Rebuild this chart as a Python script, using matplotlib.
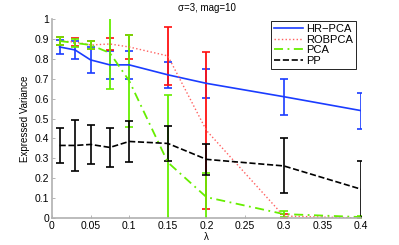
import matplotlib.pyplot as plt
from matplotlib.lines import Line2D

lam = [0.01, 0.03, 0.05, 0.075, 0.1, 0.15, 0.2, 0.3, 0.4]

hr_mean = [0.86, 0.845, 0.795, 0.77, 0.77, 0.72, 0.677, 0.61, 0.54]
hr_err = [0.035, 0.045, 0.065, 0.07, 0.07, 0.065, 0.072, 0.09, 0.09]

rob_mean = [0.89, 0.885, 0.87, 0.875, 0.86, 0.815, 0.44, 0.01, 0.0]
rob_err = [0.02, 0.02, 0.02, 0.03, 0.06, 0.145, 0.395, 0.01, 0.005]

pca_mean = [0.89, 0.88, 0.87, 0.83, 0.69, 0.28, 0.105, 0.02, 0.005]
pca_err = [0.02, 0.02, 0.02, 0.18, 0.23, 0.34, 0.12, 0.015, 0.005]

pp_mean = [0.365, 0.365, 0.37, 0.355, 0.385, 0.375, 0.295, 0.262, 0.145]
pp_err = [0.09, 0.13, 0.1, 0.1, 0.105, 0.09, 0.078, 0.138, 0.14]

plt.rcParams['font.family'] = ['Liberation Sans', 'DejaVu Sans']
fs = 7

blue, red_line, red, green = "#1a3cff", "#ff6060", "#ff1010", "#66ee00"
dashdot = (0, (5, 2.5, 1, 2.5))

fig = plt.figure(figsize=(3.99, 2.45), dpi=100)
ax = fig.add_axes([0.130, 0.110, 0.775, 0.812])

ax.errorbar(lam, hr_mean, yerr=hr_err, color=blue, lw=1.2, capsize=3,
            elinewidth=1.2, capthick=1.2)
ax.errorbar(lam, rob_mean, yerr=rob_err, color=red_line, ls=":", lw=1.0,
            capsize=3, elinewidth=1.3, capthick=1.2, ecolor=red)
ax.errorbar(lam, pca_mean, yerr=pca_err, color=green, ls=dashdot, lw=1.3,
            capsize=3, elinewidth=1.3, capthick=1.2)
ax.errorbar(lam, pp_mean, yerr=pp_err, color="black", ls="--", lw=1.2,
            capsize=3, elinewidth=1.2, capthick=1.2)

ax.set_xlim(0, 0.4)
ax.set_ylim(0, 1)
ax.set_xticks([0, 0.05, 0.1, 0.15, 0.2, 0.25, 0.3, 0.35, 0.4])
ax.set_xticklabels(["0", "0.05", "0.1", "0.15", "0.2", "0.25", "0.3", "0.35", "0.4"])
ax.set_yticks([i / 10 for i in range(11)])
ax.set_yticklabels(["0", "0.1", "0.2", "0.3", "0.4", "0.5", "0.6", "0.7", "0.8", "0.9", "1"])
ax.tick_params(direction="in", length=2, width=0.6, colors="#aaaaaa",
               labelcolor="black", labelsize=fs + 0.5, pad=2)

for s in ["top", "right"]:
    ax.spines[s].set_visible(False)
for s in ["left", "bottom"]:
    ax.spines[s].set_color("#b0b0b0")
    ax.spines[s].set_linewidth(1.2)

ax.set_title("\u03c3=3, mag=10", fontsize=fs, pad=6)
ax.set_xlabel("\u03bb", fontsize=fs, labelpad=1)
ax.set_ylabel("Expressed Variance", fontsize=fs, labelpad=3)

handles = [Line2D([], [], color=blue, lw=1.2),
           Line2D([], [], color=red_line, ls=":", lw=1.0),
           Line2D([], [], color=green, ls=dashdot, lw=1.3),
           Line2D([], [], color="black", ls="--", lw=1.2)]
labels = ["HR\u2212PCA", "ROBPCA", "PCA", "PP"]
leg = ax.legend(handles, labels, loc="upper right", bbox_to_anchor=(0.984, 0.988),
                fontsize=8, handlelength=2.6, fancybox=False, framealpha=1,
                edgecolor="black", borderpad=0.25, labelspacing=0.05,
                handletextpad=0.3, borderaxespad=0)
leg.get_frame().set_linewidth(0.6)

fig.savefig("out.png", dpi=100)
